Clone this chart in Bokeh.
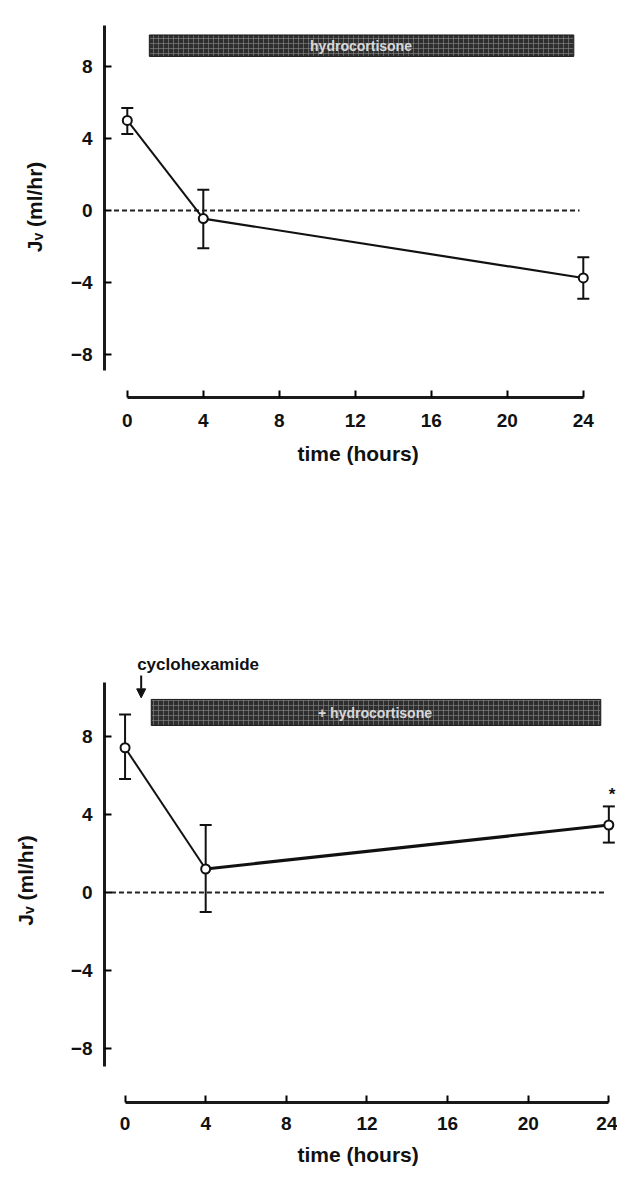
from bokeh.plotting import figure
from bokeh.models import (ColumnDataSource, Whisker, TeeHead, FixedTicker, Label,
                          Arrow, NormalHead, Range1d)
from bokeh.layouts import column
from bokeh.embed import file_html
from bokeh.resources import INLINE

# ---- data ----
time_h = [0, 4, 24]
a_mean = [5.0, -0.45, -3.75]
a_upper = [5.7, 1.15, -2.6]
a_lower = [4.25, -2.1, -4.9]
b_mean = [7.4, 1.2, 3.45]
b_upper = [9.1, 3.45, 4.4]
b_lower = [5.8, -1.0, 2.55]
x_ticks = [0, 4, 8, 12, 16, 20, 24]
y_ticks = [-8, -4, 0, 4, 8]
banner_a_text = "hydrocortisone"
banner_b_text = "+ hydrocortisone"
drug_text = "cyclohexamide"
y_title = "J\u1d65  (ml/hr)"
x_title = "time  (hours)"

FONT = "Liberation Sans"
INK = "#111111"


def make_panel(height, x_range, y_range, min_left, min_top, min_bottom,
               mean, upper, lower, ybounds, ylab_standoff, seg_widths,
               xlab_standoff, xtitle_standoff):
    p = figure(width=617, height=height, output_backend="svg", toolbar_location=None,
               x_range=Range1d(*x_range), y_range=Range1d(*y_range),
               min_border_left=min_left, min_border_right=0,
               min_border_top=min_top, min_border_bottom=min_bottom)
    p.outline_line_color = None
    p.grid.visible = False
    p.background_fill_color = "white"
    p.border_fill_color = "white"

    for ax, ticks, bounds in ((p.xaxis, x_ticks, (0, 24)), (p.yaxis, y_ticks, ybounds)):
        ax.ticker = FixedTicker(ticks=ticks)
        ax.bounds = bounds
        ax.axis_line_width = 3
        ax.axis_line_color = "#1a1a1a"
        ax.major_tick_line_width = 2
        ax.major_tick_in = 7
        ax.major_tick_out = 0
        ax.minor_tick_line_color = None
        ax.major_label_text_font = FONT
        ax.major_label_text_font_style = "bold"
        ax.major_label_text_font_size = "19px"
        ax.major_label_text_color = INK
        ax.axis_label_text_font = FONT
        ax.axis_label_text_font_style = "bold"
        ax.axis_label_text_font_size = "21px"
        ax.axis_label_text_color = INK
    p.xaxis.axis_label = x_title
    p.xaxis.major_label_standoff = xlab_standoff
    p.xaxis.axis_label_standoff = xtitle_standoff
    p.yaxis.axis_label = y_title
    p.yaxis.major_label_standoff = 12
    p.yaxis.axis_label_standoff = ylab_standoff

    src = ColumnDataSource(dict(t=time_h, m=mean, up=upper, lo=lower))
    # zero reference line
    p.line(x=[-0.7, 23.8], y=[0, 0], line_dash="5 3", line_width=2, line_color="#222222")
    p.segment(x0=time_h[:-1], y0=mean[:-1], x1=time_h[1:], y1=mean[1:],
              line_width=seg_widths, line_color=INK)
    w = Whisker(base="t", upper="up", lower="lo", source=src, line_width=2,
                line_color=INK,
                upper_head=TeeHead(size=12, line_width=2, line_color=INK),
                lower_head=TeeHead(size=12, line_width=2, line_color=INK))
    p.add_layout(w)
    p.scatter(x="t", y="m", source=src, marker="circle", size=9, fill_color="white",
              line_color=INK, line_width=2)
    return p


# ---- panel A ----
pa = make_panel(472, (-1.2, 25.8), (-10.39, 11.11), 104, 10, 75,
                a_mean, a_upper, a_lower, (-8.9, 10.3), 22, [2, 2.2], 16, 12)
pa.quad(left=1.16, right=23.5, bottom=8.56, top=9.75, fill_color="#2e2e2e",
        line_color="#1a1a1a", hatch_pattern="+", hatch_color="#8a8a8a",
        hatch_alpha=0.6, hatch_scale=5, hatch_weight=1)
pa.add_layout(Label(x=12.3, y=9.15, text=banner_a_text, text_align="center",
                    text_baseline="middle", text_font=FONT, text_font_style="bold",
                    text_font_size="14px", text_color="#d8d8d8"))
pa.add_layout(Label(x=-2.6, y=10.6, text="A.", text_align="left", text_baseline="middle",
                    text_font=FONT, text_font_style="bold italic", text_font_size="16px",
                    text_color=INK))

# ---- panel B ----
pb = make_panel(698, (-1.02, 24.43), (-10.74, 12.27), 91, 180, 68,
                b_mean, b_upper, b_lower, (-8.9, 10.76), 31, [2, 3.2], 14, 10)
pb.quad(left=1.3, right=23.6, bottom=8.54, top=9.87, fill_color="#2e2e2e",
        line_color="#1a1a1a", hatch_pattern="+", hatch_color="#8a8a8a",
        hatch_alpha=0.6, hatch_scale=5, hatch_weight=1)
pb.add_layout(Label(x=12.4, y=9.2, text=banner_b_text, text_align="center",
                    text_baseline="middle", text_font=FONT, text_font_style="bold",
                    text_font_size="14px", text_color="#d8d8d8"))
pb.add_layout(Label(x=-2.4, y=11.4, text="B.", text_align="left", text_baseline="middle",
                    text_font=FONT, text_font_style="bold italic", text_font_size="16px",
                    text_color=INK))
pb.add_layout(Label(x=0.6, y=11.66, text=drug_text, text_align="left", text_baseline="middle",
                    text_font=FONT, text_font_style="bold", text_font_size="17px",
                    text_color=INK))
pb.add_layout(Arrow(x_start=0.8, y_start=11.1, x_end=0.8, y_end=9.95, line_width=2,
                    line_color=INK,
                    end=NormalHead(size=9, fill_color=INK, line_color=INK)))
pb.add_layout(Label(x=24.0, y=5.0, text="*", text_align="left", text_baseline="middle",
                    text_font=FONT, text_font_style="bold", text_font_size="17px",
                    text_color=INK))

layout = column(pa, pb, spacing=0)
open("out.html", "w").write(file_html(layout, INLINE))
